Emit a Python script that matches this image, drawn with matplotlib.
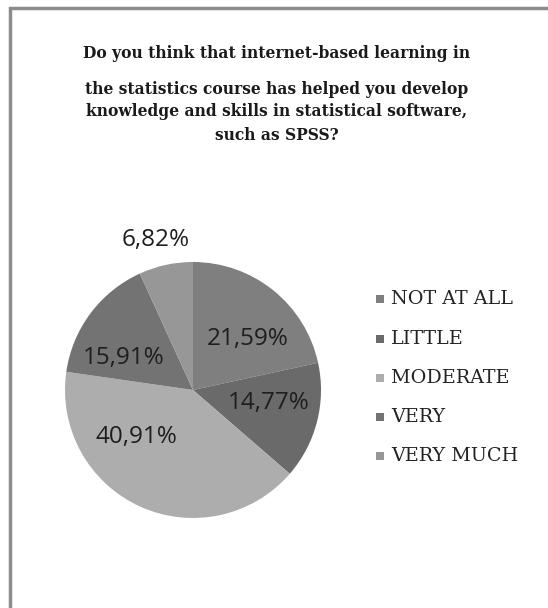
import matplotlib.pyplot as plt
from matplotlib.patches import Rectangle

categories = ['NOT AT ALL', 'LITTLE', 'MODERATE', 'VERY', 'VERY MUCH']
values = [21.59, 14.77, 40.91, 15.91, 6.82]
colors = ['#7f7f7f', '#6a6a6a', '#adadad', '#737373', '#979797']
title_lines = ['Do you think that internet-based learning in',
               'the statistics course has helped you develop',
               'knowledge and skills in statistical software,',
               'such as SPSS?']

W, H = 548, 608
fig = plt.figure(figsize=(W / 100, H / 100), dpi=100)
fig.patch.set_facecolor('white')

# border (right/bottom fall off the picture)
fig.add_artist(Rectangle((10 / W, -0.05), 1.0, (H - 8) / H + 0.05,
                         transform=fig.transFigure, fill=False,
                         edgecolor='#8c8c8c', linewidth=2.5))

# title
title_y = [53, 89, 112, 135]
for line, y in zip(title_lines, title_y):
    fig.text(277 / W, 1 - y / H, line, ha='center', va='center',
             fontsize=11.2, fontweight='bold', family='DejaVu Serif',
             color='#1a1a1a')

# pie axes: center (193, 390), radius 128
r = 128
ax = fig.add_axes([(193 - r) / W, 1 - (390 + r) / H, 2 * r / W, 2 * r / H])
wedges, texts = ax.pie(values, colors=colors, startangle=90, counterclock=False,
                       radius=1.0)
ax.set_xlim(-1, 1)
ax.set_ylim(-1, 1)
ax.set_aspect('equal')
ax.axis('off')

# label placement (excel "best fit"), axes units
label_pos = [(0.43, 0.40), (0.59, -0.10), (-0.44, -0.37), (-0.54, 0.25), (-0.29, 1.17)]
for v, (x, y) in zip(values, label_pos):
    ax.text(x, y, f'{v:.2f}'.replace('.', ',') + '%', ha='center', va='center',
            fontsize=17.5, color='#1e1e1e', family='Open Sans', clip_on=False)

# legend
leg_y = [299, 339, 378, 417, 456]
for cat, col, y in zip(categories, colors, leg_y):
    fig.add_artist(Rectangle((376 / W, 1 - (y + 4) / H), 8 / W, 8 / H,
                             transform=fig.transFigure, facecolor=col,
                             edgecolor='none'))
    fig.text(391 / W, 1 - y / H, cat, ha='left', va='center',
             fontsize=13.8, family='DejaVu Serif', color='#222222')

fig.savefig('out.png', dpi=100)
